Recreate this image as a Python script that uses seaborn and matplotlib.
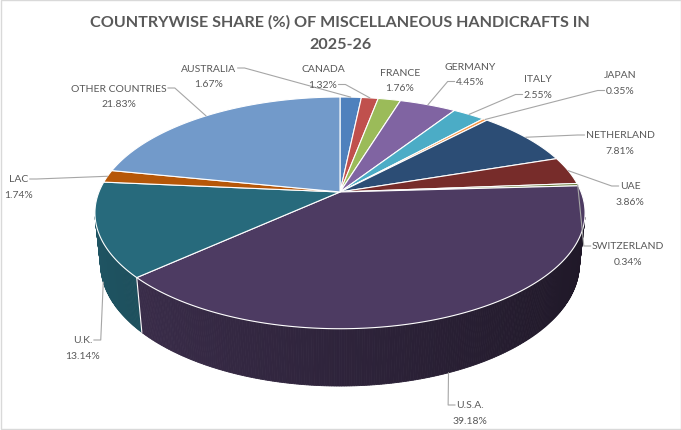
import numpy as np
import matplotlib
matplotlib.use("Agg")
import matplotlib.pyplot as plt
import seaborn as sns
from matplotlib.patches import Polygon, Rectangle

# Data (clockwise from 12 o'clock)
countries = ["AUSTRALIA", "CANADA", "FRANCE", "GERMANY", "ITALY", "JAPAN",
             "NETHERLAND", "UAE", "SWITZERLAND", "U.S.A.", "U.K.", "LAC",
             "OTHER COUNTRIES"]
shares = [1.67, 1.32, 1.76, 4.45, 2.55, 0.35, 7.81, 3.86, 0.34, 39.18, 13.14,
          1.74, 21.83]
colors = ["#4F81BD", "#C0504D", "#9BBB59", "#8064A2", "#4BACC6", "#F79646",
          "#2C4D75", "#772C2A", "#5F7530", "#4D3B62", "#276A7C", "#B65708",
          "#729ACA"]
title_lines = ["COUNTRYWISE SHARE (%) OF MISCELLANEOUS HANDICRAFTS IN", "2025-26"]

# label layout: centre of name line (x, y) and which line the leader attaches to
label_pos = {
    "AUSTRALIA": (209, 69, "name"),
    "CANADA": (323, 70, "pct"),
    "FRANCE": (400, 73, None),
    "GERMANY": (470, 67, "pct"),
    "ITALY": (538, 80, "pct"),
    "JAPAN": (620, 76, "pct"),
    "NETHERLAND": (620, 136, "name"),
    "UAE": (630, 187, "name"),
    "SWITZERLAND": (628, 247, "name"),
    "U.S.A.": (470, 406, "name"),
    "U.K.": (83, 341, "name"),
    "LAC": (19, 180, "name"),
    "OTHER COUNTRIES": (119, 89, "name"),
}

sns.set_style("white")
plt.rcParams["font.family"] = ["Lato", "DejaVu Sans"]

# perspective projection of the tilted pie
CX, CY = 340, 193
K = 1184
SIN_E, COS_E = 0.465, 0.885
DIST = 5.55 * COS_E
THICK = 0.241


def project(theta, z=0.0):
    x = np.sin(theta)
    y = np.cos(theta)
    yc = y * SIN_E + z * COS_E
    dc = DIST + y * COS_E - z * SIN_E
    return CX + K * x / dc, CY - K * yc / dc


def shade(hexcol, f):
    rgb = np.array(matplotlib.colors.to_rgb(hexcol))
    return tuple(np.clip(rgb * f, 0, 1))


fig = plt.figure(figsize=(6.81, 4.31), dpi=100)
ax = fig.add_axes([0, 0, 1, 1])
ax.set_xlim(0, 681)
ax.set_ylim(431, 0)
ax.axis("off")

bounds = np.concatenate([[0], np.cumsum(shares)]) / np.sum(shares) * 2 * np.pi
vis_limit = -1.0 / (DIST * COS_E)

# side walls (only front facing part), far to near
segs = []
for i in range(len(shares)):
    t0, t1 = bounds[i], bounds[i + 1]
    n = max(2, int(np.degrees(t1 - t0) * 2))
    ts = np.linspace(t0, t1, n)
    for a, b in zip(ts[:-1], ts[1:]):
        m = (a + b) / 2
        if np.cos(m) < vis_limit + 0.02:
            segs.append((a, b, i))
segs.sort(key=lambda s: -np.cos((s[0] + s[1]) / 2))
for a, b, i in segs:
    m = (a + b) / 2
    f = 0.60 - 0.2 * np.sin(m)
    xa, ya = project(a, 0)
    xb, yb = project(b, 0)
    xc, yc = project(b, -THICK)
    xd, yd = project(a, -THICK)
    col = shade(colors[i], f)
    ax.add_patch(Polygon([(xa, ya), (xb, yb), (xc, yc), (xd, yd)],
                         closed=True, facecolor=col, edgecolor=col,
                         linewidth=0.6, zorder=2))

# slice borders on the wall
for t in bounds[:-1]:
    if np.cos(t) < vis_limit:
        x0, y0 = project(t, 0)
        x1, y1 = project(t, -THICK)
        ax.plot([x0, x1], [y0, y1], color="white", lw=0.8, zorder=3)

# top faces
for i in range(len(shares)):
    t0, t1 = bounds[i], bounds[i + 1]
    n = max(3, int(np.degrees(t1 - t0) * 2))
    ts = np.linspace(t0, t1, n)
    px, py = project(ts, 0)
    pts = [(CX, CY)] + list(zip(px, py))
    ax.add_patch(Polygon(pts, closed=True, facecolor=colors[i],
                         edgecolor="white", linewidth=0.8,
                         joinstyle="round", zorder=4))

# title
ax.text(340, 22, title_lines[0], ha="center", va="center", fontsize=11.6,
        fontweight="bold", color="#595959", zorder=6)
ax.text(340, 45, title_lines[1], ha="center", va="center", fontsize=11.6,
        fontweight="bold", color="#595959", zorder=6)

# labels
texts = []
anchors = []
for i, name in enumerate(countries):
    lx, ly, _ = label_pos[name]
    tn = ax.text(lx, ly, name, ha="center", va="center", fontsize=7.5,
                 color="#595959", zorder=6)
    tp = ax.text(lx, ly + 15.5, f"{shares[i]:.2f}%", ha="center", va="center",
                 fontsize=7.5, color="#595959", zorder=6)
    texts.append((tn, tp))
    m = (bounds[i] + bounds[i + 1]) / 2
    z = -THICK if np.cos(m) < vis_limit else 0.0
    anchors.append(project(m, z))

fig.canvas.draw()
rend = fig.canvas.get_renderer()
inv = ax.transData.inverted()
for i, name in enumerate(countries):
    lx, ly, where = label_pos[name]
    if where is None:
        continue
    tobj = texts[i][0] if where == "name" else texts[i][1]
    bb = tobj.get_window_extent(rend).transformed(inv)
    x0, x1 = sorted([bb.x0, bb.x1])
    py = (bb.y0 + bb.y1) / 2
    axx, ayy = anchors[i]
    if axx < x0:
        px = x0 - 1
        ex = px - 7
    else:
        px = x1 + 1
        ex = px + 7
    ax.plot([axx, ex, px], [ayy, py, py], color="#a6a6a6", lw=0.8, zorder=5)

ax.add_patch(Rectangle((0.5, 0.5), 680, 430, fill=False, edgecolor="#d9d9d9",
                       linewidth=1, zorder=7))

fig.savefig("out.png", dpi=100)
